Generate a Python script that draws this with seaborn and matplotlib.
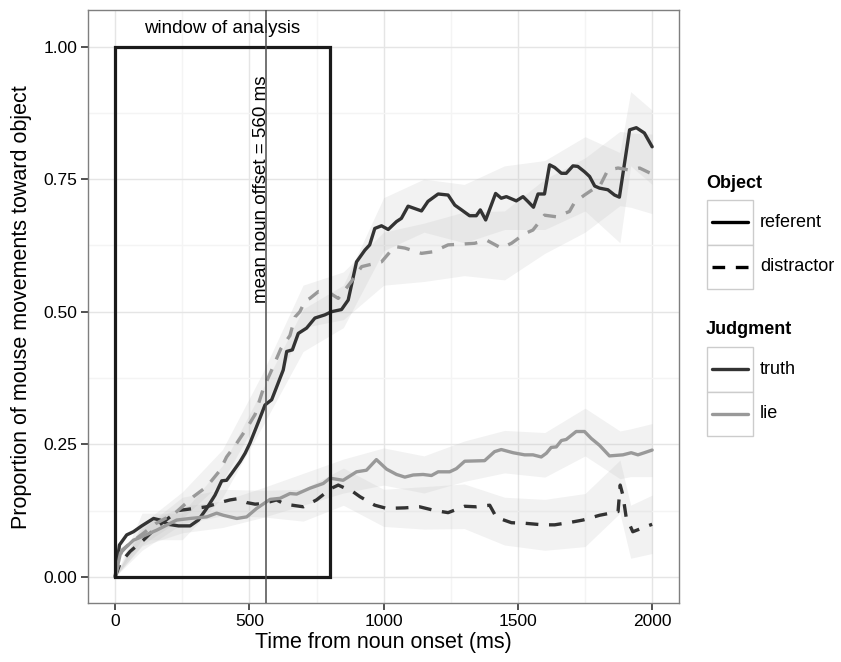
import numpy as np
import pandas as pd
import seaborn as sns
import matplotlib.pyplot as plt
from matplotlib.patches import Rectangle
from matplotlib.lines import Line2D

# ---- data ----
# truth / referent (dark solid)
truth_ref_t = [0, 16, 43, 68, 99, 143, 167, 198, 236, 279, 310, 341, 372, 397, 415, 434, 465, 484, 502,
               539, 558, 583, 626, 639, 660, 682, 713, 744, 781, 806, 843, 868, 899, 930, 948, 967, 992,
               1017, 1048, 1066, 1091, 1141, 1165, 1203, 1240, 1265, 1290, 1320, 1345, 1360, 1380, 1417,
               1438, 1457, 1494, 1519, 1537, 1558, 1575, 1599, 1618, 1637, 1662, 1680, 1705, 1723, 1748,
               1767, 1786, 1804, 1835, 1860, 1878, 1916, 1941, 1971, 2000]
truth_ref_v = [0.0, 0.060, 0.079, 0.085, 0.096, 0.110, 0.107, 0.099, 0.096, 0.096, 0.107, 0.129, 0.154,
               0.181, 0.182, 0.195, 0.217, 0.233, 0.252, 0.299, 0.324, 0.334, 0.390, 0.425, 0.428, 0.459,
               0.469, 0.488, 0.494, 0.500, 0.504, 0.522, 0.594, 0.616, 0.626, 0.657, 0.662, 0.655, 0.670,
               0.676, 0.699, 0.690, 0.708, 0.722, 0.720, 0.701, 0.692, 0.681, 0.681, 0.692, 0.673, 0.723,
               0.714, 0.717, 0.709, 0.717, 0.708, 0.697, 0.722, 0.722, 0.777, 0.772, 0.761, 0.761, 0.775,
               0.774, 0.764, 0.755, 0.737, 0.733, 0.730, 0.720, 0.716, 0.843, 0.847, 0.837, 0.811]

# lie / distractor (light dashed, upper)
lie_dist_t = [0, 25, 60, 105, 150, 223, 291, 341, 391, 415, 453, 490, 521, 552, 583, 617, 651, 670, 688,
              707, 725, 757, 800, 831, 880, 918, 967, 992, 1041, 1079, 1141, 1184, 1240, 1277, 1339, 1383,
              1438, 1476, 1525, 1556, 1599, 1643, 1692, 1711, 1748, 1786, 1804, 1835, 1873, 1916, 1953,
              1990, 2000]
lie_dist_v = [0.0, 0.050, 0.065, 0.082, 0.100, 0.120, 0.151, 0.170, 0.201, 0.226, 0.252, 0.280, 0.306,
              0.355, 0.390, 0.430, 0.455, 0.490, 0.500, 0.520, 0.525, 0.538, 0.535, 0.525, 0.557, 0.585,
              0.591, 0.594, 0.623, 0.620, 0.610, 0.613, 0.626, 0.627, 0.629, 0.635, 0.620, 0.629, 0.647,
              0.654, 0.682, 0.679, 0.689, 0.706, 0.720, 0.733, 0.736, 0.767, 0.771, 0.767, 0.771, 0.762,
              0.760]

# truth / distractor (dark dashed)
truth_dist_t = [0, 19, 56, 105, 155, 236, 341, 390, 428, 453, 490, 521, 552, 601, 632, 701, 750, 806,
                831, 887, 912, 967, 1011, 1079, 1134, 1190, 1240, 1302, 1345, 1395, 1420, 1476, 1525,
                1593, 1637, 1699, 1742, 1804, 1854, 1873, 1881, 1891, 1903, 1928, 1984, 2000]
truth_dist_v = [0.0, 0.026, 0.048, 0.069, 0.094, 0.125, 0.132, 0.140, 0.145, 0.147, 0.140, 0.137, 0.138,
                0.145, 0.137, 0.132, 0.145, 0.167, 0.173, 0.160, 0.151, 0.135, 0.129, 0.130, 0.132, 0.125,
                0.121, 0.133, 0.132, 0.135, 0.112, 0.102, 0.101, 0.098, 0.098, 0.103, 0.107, 0.116, 0.121,
                0.123, 0.173, 0.154, 0.113, 0.085, 0.096, 0.099]

# lie / referent (light solid, lower)
lie_ref_t = [0, 20, 45, 68, 110, 155, 229, 279, 341, 378, 403, 453, 490, 527, 577, 614, 651, 676, 725,
             775, 800, 849, 899, 936, 973, 1011, 1048, 1079, 1110, 1147, 1178, 1203, 1246, 1271, 1302,
             1376, 1413, 1438, 1482, 1525, 1556, 1587, 1606, 1624, 1643, 1662, 1680, 1717, 1748, 1773,
             1804, 1841, 1891, 1922, 1947, 1971, 2000]
lie_ref_v = [0.0, 0.045, 0.058, 0.069, 0.078, 0.088, 0.107, 0.110, 0.113, 0.120, 0.116, 0.110, 0.113,
             0.129, 0.146, 0.148, 0.157, 0.156, 0.167, 0.176, 0.186, 0.182, 0.198, 0.201, 0.221, 0.203,
             0.193, 0.188, 0.192, 0.193, 0.191, 0.198, 0.198, 0.204, 0.218, 0.219, 0.236, 0.240, 0.234,
             0.230, 0.230, 0.226, 0.233, 0.244, 0.245, 0.257, 0.259, 0.274, 0.274, 0.261, 0.248, 0.228,
             0.230, 0.234, 0.230, 0.234, 0.239]

# confidence bands (coarse)
band_t = [0, 100, 250, 400, 550, 700, 850, 1000, 1150, 1300, 1450, 1600, 1750, 1880, 1920, 2000]
truth_ref_lo = [0, 0.07, 0.07, 0.15, 0.285, 0.425, 0.47, 0.615, 0.65, 0.63, 0.655, 0.655, 0.69, 0.63, 0.775, 0.74]
truth_ref_hi = [0, 0.12, 0.12, 0.21, 0.355, 0.505, 0.55, 0.715, 0.75, 0.74, 0.775, 0.785, 0.83, 0.80, 0.915, 0.88]
lie_dist_lo = [0, 0.06, 0.11, 0.18, 0.315, 0.47, 0.485, 0.55, 0.557, 0.568, 0.56, 0.61, 0.65, 0.70, 0.697, 0.685]
lie_dist_hi = [0, 0.10, 0.16, 0.24, 0.385, 0.55, 0.575, 0.65, 0.667, 0.688, 0.69, 0.75, 0.79, 0.84, 0.837, 0.835]
truth_dist_lo = [0, 0.05, 0.10, 0.115, 0.113, 0.105, 0.135, 0.095, 0.09, 0.091, 0.06, 0.05, 0.057, 0.12, 0.035, 0.044]
truth_dist_hi = [0, 0.09, 0.15, 0.165, 0.163, 0.165, 0.205, 0.165, 0.17, 0.175, 0.15, 0.146, 0.157, 0.22, 0.135, 0.154]
lie_ref_lo = [0, 0.058, 0.083, 0.093, 0.112, 0.135, 0.158, 0.173, 0.158, 0.18, 0.196, 0.188, 0.228, 0.185, 0.189, 0.189]
lie_ref_hi = [0, 0.098, 0.133, 0.143, 0.168, 0.195, 0.222, 0.243, 0.228, 0.256, 0.276, 0.272, 0.318, 0.275, 0.279, 0.289]

window_end = 800
noun_offset = 560

sns.set_style("white")
plt.rcParams['font.family'] = ['Liberation Sans', 'DejaVu Sans']
plt.rcParams['text.color'] = 'black'
plt.rcParams['axes.labelcolor'] = 'black'
plt.rcParams['xtick.color'] = 'black'
plt.rcParams['ytick.color'] = 'black'

frames = []
for t, v, obj, jud in [(truth_ref_t, truth_ref_v, 'referent', 'truth'),
                       (lie_ref_t, lie_ref_v, 'referent', 'lie'),
                       (truth_dist_t, truth_dist_v, 'distractor', 'truth'),
                       (lie_dist_t, lie_dist_v, 'distractor', 'lie')]:
    frames.append(pd.DataFrame({'time': t, 'prop': v, 'Object': obj, 'Judgment': jud}))
df = pd.concat(frames, ignore_index=True)

fig = plt.figure(figsize=(8.41, 6.62), dpi=100)
ax = fig.add_axes([88.3 / 841, 1 - 603.3 / 662, (679 - 88.3) / 841, (603.3 - 10) / 662])

# ribbons
for lo, hi in [(truth_ref_lo, truth_ref_hi), (lie_dist_lo, lie_dist_hi),
               (truth_dist_lo, truth_dist_hi), (lie_ref_lo, lie_ref_hi)]:
    ax.fill_between(band_t, lo, hi, color='#bebebe', alpha=0.2, linewidth=0, zorder=2)

palette = {'truth': '#333333', 'lie': '#999999'}
dash_map = {'referent': '', 'distractor': (3.8, 3.2)}
sns.lineplot(data=df, x='time', y='prop', hue='Judgment', style='Object', palette=palette,
             dashes=dash_map, errorbar=None, legend=False, linewidth=2.4, ax=ax, zorder=3)

# window of analysis + noun offset
ax.add_patch(Rectangle((0, 0), window_end, 1.0, fill=False, edgecolor='#1a1a1a', linewidth=2.3, zorder=4))
ax.axvline(noun_offset, color='#4d4d4d', linewidth=1.1, zorder=5)
ax.text(window_end / 2, 1.035, 'window of analysis', ha='center', va='center', fontsize=13.5)
ax.text(noun_offset - 14, 0.73, 'mean noun offset = 560 ms', rotation=90, ha='center', va='center',
        fontsize=13.5)

ax.set_xlim(-100, 2100)
ax.set_ylim(-0.05, 1.069)
ax.set_xticks([0, 500, 1000, 1500, 2000])
ax.set_xticks([250, 750, 1250, 1750], minor=True)
ax.set_yticks([0, 0.25, 0.5, 0.75, 1.0])
ax.set_yticklabels(['0.00', '0.25', '0.50', '0.75', '1.00'])
ax.set_yticks([0.125, 0.375, 0.625, 0.875], minor=True)
ax.grid(which='major', color='#e5e5e5', linewidth=1.0)
ax.grid(which='minor', color='#f4f4f4', linewidth=1.0)
ax.set_axisbelow(True)
for s in ax.spines.values():
    s.set_color('#7f7f7f')
    s.set_linewidth(1.0)
ax.tick_params(which='major', length=5, width=1.2, color='#333333', labelsize=12.5, pad=3,
               left=True, bottom=True)
ax.tick_params(which='minor', length=0)
ax.set_xlabel('Time from noun onset (ms)', fontsize=15.5, labelpad=2)
ax.set_ylabel('Proportion of mouse movements toward object', fontsize=15.5, labelpad=8)


# manual ggplot-like legends
def fx(x):
    return x / 841


def fy(y):
    return 1 - y / 662


def legend_block(title, title_y, key_top, items):
    fig.text(fx(706), fy(title_y), title, fontsize=13, fontweight='bold', va='center', ha='left')
    top = key_top
    for label, color, dashed in items:
        h = 44.5
        fig.add_artist(Rectangle((fx(706.7), fy(top + h)), 46 / 841, h / 662, transform=fig.transFigure,
                                 facecolor='white', edgecolor='#cccccc', linewidth=1.0))
        ln = Line2D([fx(712), fx(748)], [fy(top + h / 2)] * 2, transform=fig.transFigure, color=color,
                    linewidth=2.4)
        if dashed:
            ln.set_dashes((3.8, 3.2))
        fig.add_artist(ln)
        fig.text(fx(760), fy(top + h / 2), label, fontsize=13, va='center', ha='left')
        top += h


legend_block('Object', 183, 200, [('referent', 'black', False), ('distractor', 'black', True)])
legend_block('Judgment', 329, 347, [('truth', '#333333', False), ('lie', '#999999', False)])

fig.savefig('out.png', dpi=100)
